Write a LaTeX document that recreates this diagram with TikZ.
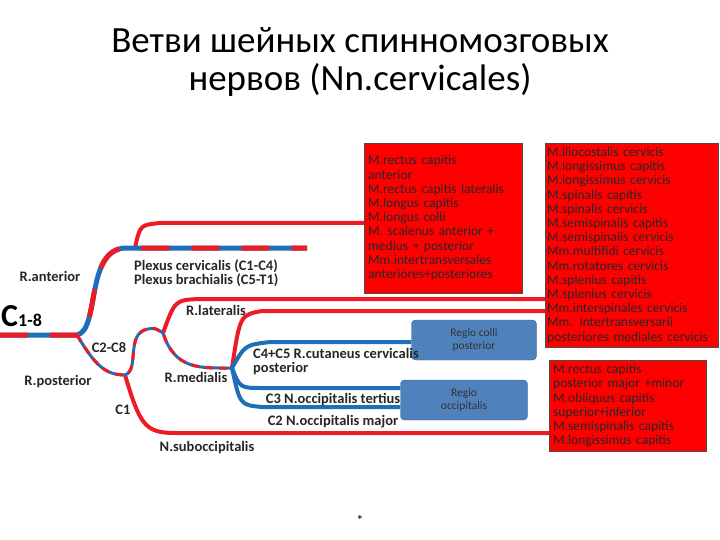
\documentclass[tikz,border=0pt]{standalone}
\usepackage{fontspec}
\setmainfont{Carlito}
\usetikzlibrary{positioning}
\definecolor{nred}{RGB}{237,28,36}
\definecolor{nblue}{RGB}{30,110,185}
\definecolor{boxblue}{RGB}{79,129,189}
\definecolor{boxedge}{RGB}{56,93,138}
\begin{document}
\begin{tikzpicture}[x=1pt,y=-1pt,
  redbox/.style={rectangle, draw=black!70, fill=red, text=black!85, align=left, anchor=north west, inner sep=3pt, font=\fontsize{13.5}{14.2}\selectfont},
  regio/.style={rectangle, draw=boxedge, fill=boxblue, rounded corners=4pt, align=center, font=\fontsize{11.5}{13}\selectfont, text=black!80},
  lbl/.style={font=\bfseries\fontsize{14.5}{14}\selectfont, text=black!85, inner sep=1pt, align=left},
  rednerve/.style={draw=nred, line width=4pt},
  bluenerve/.style={draw=nblue, line width=4pt},
  mixed/.style={draw=nred, line width=5pt, dash pattern=on 28pt off 22pt}
]
  \useasboundingbox (0,0) rectangle (720,540);
  % title
  \node[font=\fontsize{37}{38}\selectfont, align=center] (title) at (360,62) {Ветви шейных спинномозговых\\нервов (Nn.cervicales)};

  % muscle boxes
  \node[redbox, minimum width=158pt, minimum height=150pt, text width=150pt, inner xsep=4pt] (ant) at (364,143) {%
    M.rectus capitis\\anterior\\M.rectus capitis lateralis\\M.longus capitis\\M.longus colli\\M. scalenus anterior +\\medius + posterior\\Mm.intertransversales\\anteriores+posteriores};
  \node[redbox, minimum width=173pt, minimum height=204pt, text width=169pt, inner xsep=2pt] (back) at (545,143) {%
    M.iliocostalis cervicis\\M.longissimus capitis\\M.longissimus cervicis\\M.spinalis capitis\\M.spinalis cervicis\\M.semispinalis capitis\\M.semispinalis cervicis\\Mm.multifidi cervicis\\Mm.rotatores cervicis\\M.splenius capitis\\M.splenius cervicis\\Mm.interspinales cervicis\\Mm. intertransversarii\\posteriores mediales cervicis};
  \node[redbox, minimum width=157pt, minimum height=91pt, text width=149pt, inner xsep=4pt] (sub) at (549,360) {%
    M.rectus capitis\\posterior major +minor\\M.obliquus capitis\\superior+inferior\\M.semispinalis capitis\\M.longissimus capitis};
  \node[regio, minimum width=125pt, minimum height=40pt] (colli) at (474,340) {Regio colli\\posterior};
  \node[regio, minimum width=127pt, minimum height=40pt] (occ) at (464,400) {Regio\\occipitalis};

  % junction points
  \coordinate (root) at (0,335);
  \coordinate (split) at (77,335);
  \coordinate (plexend) at (307,248);
  \coordinate (postj) at (125,375);
  \coordinate (latj) at (163,333);
  \coordinate (medj) at (232,368);

  % red nerves to muscles
  \draw[rednerve] (135,248) .. controls (140,225) .. (160,223) -- (ant.west |- 0,223);
  \draw[rednerve] (latj) .. controls (175,300) .. (200,299) -- (back.west |- 0,299);
  \draw[rednerve] (medj) .. controls (240,315) .. (262,311) -- (back.west |- 0,311);
  \draw[rednerve] (postj) .. controls (140,425) and (145,433) .. (175,433) -- (sub.west |- 0,433);

  % blue cutaneous nerves
  \draw[bluenerve] (medj) .. controls (245,345) .. (270,342) -- (colli.west |- 0,342);
  \draw[bluenerve] (medj) .. controls (240,388) .. (262,388) -- (occ.west |- 0,388);
  \draw[bluenerve] (medj) .. controls (240,405) .. (262,407) -- (occ.west |- 0,407);

  % mixed trunks
  \draw[draw=nblue, line width=5pt] (root) -- (split) .. controls (100,330) and (85,250) .. (125,248) -- (plexend);
  \draw[mixed] (root) -- (split) .. controls (100,330) and (85,250) .. (125,248) -- (plexend);
  \draw[draw=nblue, line width=3pt] (split) .. controls (95,365) and (105,375) .. (postj)
     .. controls (140,370) and (125,333) .. (148,329) .. controls (155,328) .. (latj)
     .. controls (175,370) and (200,368) .. (medj);
  \draw[draw=nred, line width=3pt, dash pattern=on 8pt off 6pt] (split) .. controls (95,365) and (105,375) .. (postj)
     .. controls (140,370) and (125,333) .. (148,329) .. controls (155,328) .. (latj)
     .. controls (175,370) and (200,368) .. (medj);

  % labels
  \node[lbl] (lant) at (50,276) {R.anterior};
  \node[anchor=west, inner sep=0pt, text=black] (lroot) at (1,316) {\fontsize{32}{32}\selectfont\bfseries C\fontsize{18}{18}\selectfont 1-8};
  \node[lbl, anchor=north west] (lplex) at (133,259) {Plexus cervicalis (C1-C4)\\Plexus brachialis (C5-T1)};
  \node[lbl] (llat) at (216,310) {R.lateralis};
  \node[lbl] (lc28) at (109,348) {C2-C8};
  \node[lbl] (lpost) at (58,382) {R.posterior};
  \node[lbl] (lmed) at (196,377) {R.medialis};
  \node[lbl] (lc1) at (123,410) {C1};
  \node[lbl] (lsub) at (207,448) {N.suboccipitalis};
  \node[lbl, anchor=north west] (lcut) at (252,347) {C4+C5 R.cutaneus cervicalis\\posterior};
  \node[lbl] (lc3) at (333,400) {C3 N.occipitalis tertius};
  \node[lbl] (lc2) at (333,422) {C2 N.occipitalis major};
  \node[font=\Large] (star) at (360,520) {*};
\end{tikzpicture}
\end{document}
